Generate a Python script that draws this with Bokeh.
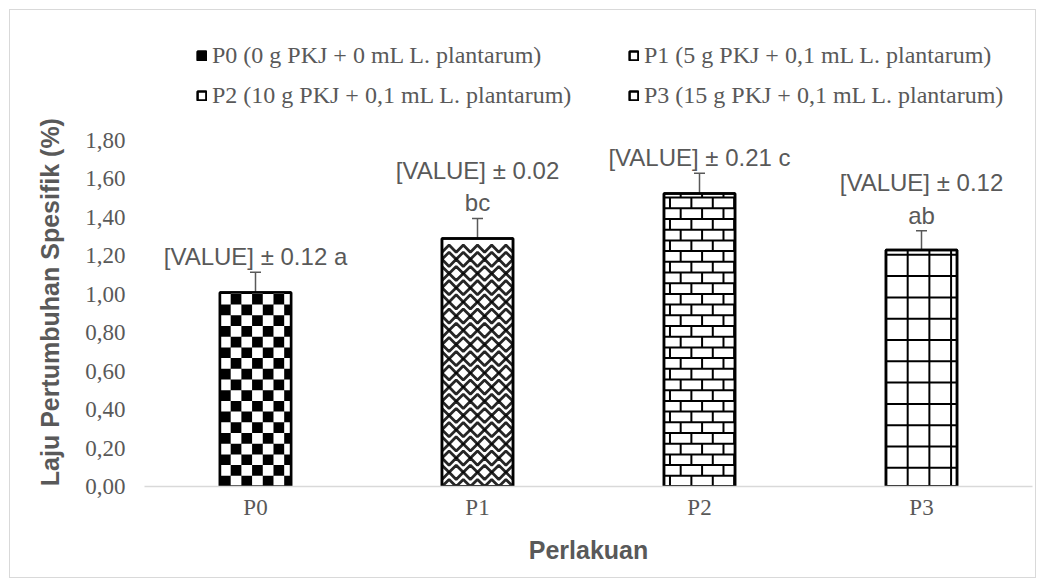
import numpy as np
from bokeh.plotting import figure
from bokeh.models import (FactorRange, Range1d, FixedTicker, CustomJSTickFormatter,
                          Legend, LegendItem, ColumnDataSource, Whisker, TeeHead)
from bokeh.core.properties import value
from bokeh.embed import file_html
from bokeh.resources import INLINE

# ---- data ----
categories = ["P0", "P1", "P2", "P3"]
values = [1.01, 1.29, 1.525, 1.23]
errors = [0.105, 0.105, 0.105, 0.10]
value_labels = ["[VALUE] ± 0.12 a", "[VALUE] ± 0.02\nbc", "[VALUE] ± 0.21 c", "[VALUE] ± 0.12\nab"]
legend_labels = ["P0 (0 g PKJ + 0 mL L. plantarum)",
                 "P1 (5 g PKJ + 0,1 mL L. plantarum)",
                 "P2 (10 g PKJ + 0,1 mL L. plantarum)",
                 "P3 (15 g PKJ + 0,1 mL L. plantarum)"]
y_ticks = [0.0, 0.2, 0.4, 0.6, 0.8, 1.0, 1.2, 1.4, 1.6, 1.8]
y_title = "Laju Pertumbuhan Spesifik (%)"
x_title = "Perlakuan"

GREY = "#595959"
FRAME_W, FRAME_H = 888, 466
PX_PER_Y = 192.2
PX_PER_X = FRAME_W / len(categories)
BAR_W = 0.32

p = figure(width=1027, height=569, x_range=FactorRange(*categories),
           y_range=Range1d(0, FRAME_H / PX_PER_Y),
           output_backend="svg", toolbar_location=None,
           min_border_left=134, min_border_right=5, min_border_top=10, min_border_bottom=93)
p.styles = {"border": "1px solid #d9d9d9", "margin-left": "9px", "margin-top": "9px"}
p.outline_line_color = None
p.xgrid.visible = False
p.ygrid.visible = False
p.background_fill_color = "white"

# axes
p.yaxis.ticker = FixedTicker(ticks=y_ticks)
p.yaxis.formatter = CustomJSTickFormatter(code="return tick.toFixed(2).replace('.', ',');")
p.yaxis.axis_line_color = None
p.yaxis.major_label_standoff = 19
# pad with no-break spaces so the title is centred on the 0..1.8 span (as in the original)
p.yaxis.axis_label = y_title + "\u00a0" * 14
p.yaxis.axis_label_standoff = 18
for ax in (p.xaxis, p.yaxis):
    ax.major_tick_line_color = None
    ax.minor_tick_line_color = None
    ax.major_tick_out = 0
    ax.major_tick_in = 0
    ax.minor_tick_out = 0
    ax.major_label_text_font = "Liberation Serif"
    ax.major_label_text_font_size = "23px"
    ax.major_label_text_color = GREY
    ax.axis_label_text_font = "Liberation Sans"
    ax.axis_label_text_font_style = "bold"
    ax.axis_label_text_font_size = "25px"
    ax.axis_label_text_color = GREY
p.xaxis.axis_line_color = "#d9d9d9"
p.xaxis.axis_line_width = 1.5
p.xaxis.major_label_standoff = 8
p.xaxis.axis_label = x_title
p.xaxis.axis_label_standoff = 13

xd = 1.0 / PX_PER_X
yd = 1.0 / PX_PER_Y

# fills (also used as legend glyphs)
fills = ["black", "white", "white", "white"]
renderers = []
for i, c in enumerate(categories):
    r = p.vbar(x=[c], top=[values[i]], width=BAR_W, fill_color=fills[i],
               line_color="black", line_width=2.5)
    renderers.append(r)

# P0 checker board (white cells on black)
i = 0
x0, x1 = i + 0.5 - BAR_W / 2, i + 0.5 + BAR_W / 2
cw, ch = 10.7 * xd, 10.7 * yd
L, R, B, T = [], [], [], []
nr = int(np.ceil(values[i] / ch))
nc = int(np.ceil((x1 - x0) / cw))
for rr in range(nr):
    for cc in range(nc):
        if (rr + cc) % 2 == 1:
            L.append(x0 + cc * cw); R.append(min(x1, x0 + (cc + 1) * cw))
            B.append(rr * ch); T.append(min(values[i], (rr + 1) * ch))
p.quad(left=L, right=R, bottom=B, top=T, fill_color="white", line_color=None)

# P1 weave / herringbone (zig-zag lines)
i = 1
x0, x1 = i + 0.5 - BAR_W / 2, i + 0.5 + BAR_W / 2
nsteps = 10
step_x = (x1 - x0) / nsteps
zz_h = 7.1 * yd
xs_list, ys_list = [], []
k = 0
while (k + 1) * zz_h <= values[i]:
    xs = [x0 + j * step_x for j in range(nsteps + 1)]
    ys = [k * zz_h + (zz_h if (j + (k // 2)) % 2 else 0) for j in range(nsteps + 1)]
    xs_list.append(xs); ys_list.append(ys)
    k += 1
p.multi_line(xs=xs_list, ys=ys_list, line_color="black", line_width=2.8, line_alpha=0.85)

# P2 bricks
i = 2
x0, x1 = i + 0.5 - BAR_W / 2, i + 0.5 + BAR_W / 2
rh, bl = 10.7 * yd, 21.4 * xd
sx0, sx1, sy0, sy1 = [], [], [], []
nr = int(np.ceil(values[i] / rh))
for rr in range(nr):
    yb, yt = rr * rh, min(values[i], (rr + 1) * rh)
    if rr > 0:
        sx0.append(x0); sx1.append(x1); sy0.append(yb); sy1.append(yb)
    off = (rr % 2) * bl / 2 + 6 * xd
    xx = x0 + off
    while xx < x1:
        sx0.append(xx); sx1.append(xx); sy0.append(yb); sy1.append(yt)
        xx += bl
p.segment(x0=sx0, y0=sy0, x1=sx1, y1=sy1, line_color="black", line_width=2)

# P3 grid
i = 3
x0, x1 = i + 0.5 - BAR_W / 2, i + 0.5 + BAR_W / 2
gx, gy = 21.7 * xd, 21.3 * yd
gx0, gx1, gy0, gy1 = [], [], [], []
xx = x0 + gx
while xx < x1 - 2 * xd:
    gx0.append(xx); gx1.append(xx); gy0.append(0); gy1.append(values[i])
    xx += gx
yy = 18.7 * yd
while yy < values[i]:
    gx0.append(x0); gx1.append(x1); gy0.append(yy); gy1.append(yy)
    yy += gy
p.segment(x0=gx0, y0=gy0, x1=gx1, y1=gy1, line_color="black", line_width=2)

# outlines on top
p.vbar(x=categories, top=values, width=BAR_W, fill_color=None, line_color="black", line_width=2.5)

# error bars
src = ColumnDataSource(dict(x=categories,
                            upper=[v + e for v, e in zip(values, errors)],
                            lower=[v - e for v, e in zip(values, errors)]))
wh = Whisker(base="x", upper="upper", lower="lower", source=src,
             line_color=GREY, line_width=1.5,
             upper_head=TeeHead(size=11, line_color=GREY, line_width=1.5),
             lower_head=TeeHead(size=11, line_color=GREY, line_width=1.5))
p.add_layout(wh)

# value labels
p.text(x=categories, y=src.data["upper"], text=value_labels, text_align="center",
       text_baseline="bottom", y_offset=-2, text_font=value("Liberation Sans"),
       text_font_size="24px", text_color=GREY, text_line_height=1.2)

# legends (two columns)
def make_legend(idx, loc):
    lg = Legend(items=[LegendItem(label=legend_labels[k], renderers=[renderers[k]]) for k in idx],
                location=loc, padding=0, margin=0, spacing=12,
                glyph_width=11, glyph_height=11, label_standoff=5, label_height=28,
                border_line_color=None, background_fill_alpha=0,
                label_text_font="Liberation Serif", label_text_font_size="24px",
                label_text_color=GREY)
    p.add_layout(lg)

make_legend([0, 2], (52, 377))
make_legend([1, 3], (484, 377))

open("out.html", "w").write(file_html(p, INLINE))
